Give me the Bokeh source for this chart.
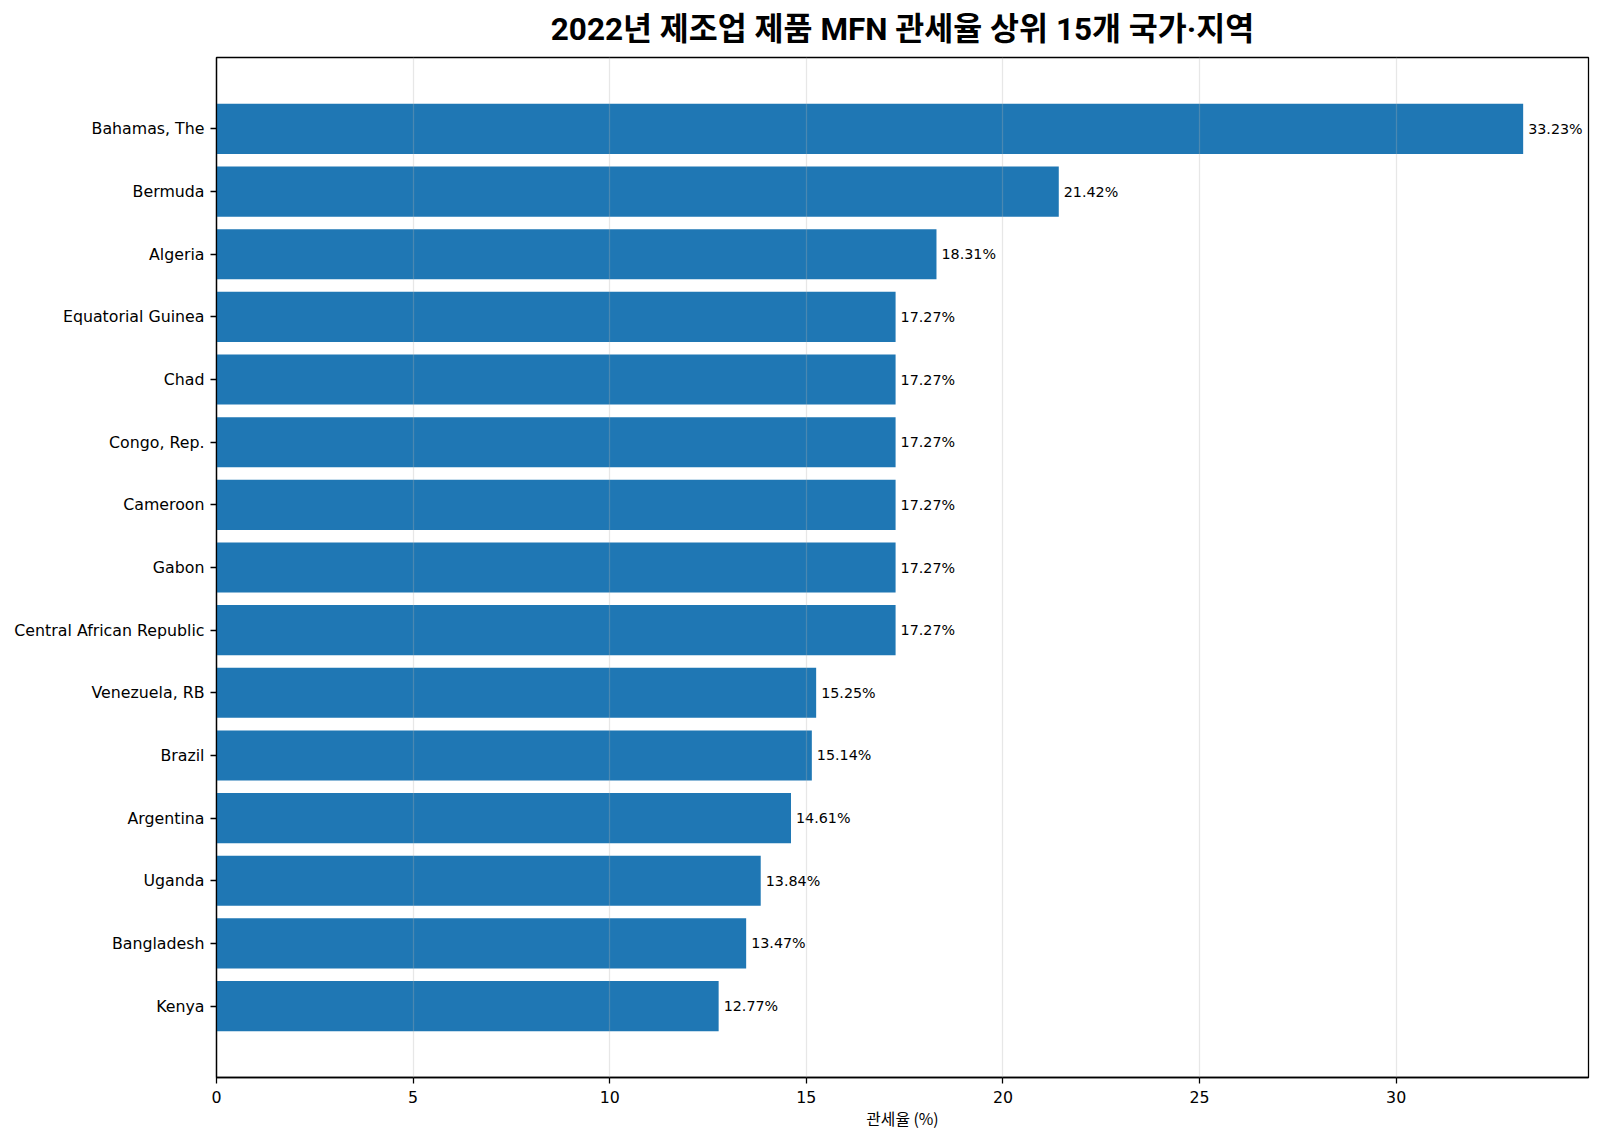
from bokeh.plotting import figure
from bokeh.models import FactorRange, Range1d, SingleIntervalTicker, ColumnDataSource
from bokeh.core.properties import value
from bokeh.embed import file_html
from bokeh.resources import INLINE

countries = ["Bahamas, The", "Bermuda", "Algeria", "Equatorial Guinea", "Chad",
             "Congo, Rep.", "Cameroon", "Gabon", "Central African Republic",
             "Venezuela, RB", "Brazil", "Argentina", "Uganda", "Bangladesh", "Kenya"]
tariffs = [33.23, 21.42, 18.31, 17.27, 17.27, 17.27, 17.27, 17.27, 17.27,
           15.25, 15.14, 14.61, 13.84, 13.47, 12.77]
labels = [f"{v:.2f}%" for v in tariffs]

title_text = "2022년 제조업 제품 MFN 관세율 상위 15개 국가·지역"
xlabel_text = "관세율 (%)"

src = ColumnDataSource(dict(country=countries, tariff=tariffs, label=labels))

factors = countries[::-1]
p = figure(
    y_range=FactorRange(factors=factors, range_padding=1.28 / 15),
    x_range=Range1d(0, max(tariffs) * 1.05),
    frame_width=1372, frame_height=1020,
    min_border_left=216, min_border_top=57, min_border_right=2, min_border_bottom=50,
    output_backend="svg", toolbar_location=None,
    background_fill_color="white", border_fill_color="white",
)

p.hbar(y="country", right="tariff", left=0, height=0.8, source=src,
       fill_color="#1f77b4", line_color=None)

p.text(x="tariff", y="country", text="label", source=src,
       x_offset=5, text_align="left", text_baseline="middle",
       text_font=value("DejaVu Sans"), text_font_size="14.3px", text_color="black")

p.title.text = title_text
p.title.align = "center"
p.title.vertical_align = "middle"
p.title.text_font = "Roboto, 'Noto Sans CJK KR'"
p.title.text_font_style = "bold"
p.title.text_font_size = "31.5px"
p.title.text_color = "black"
p.title.standoff = 18

p.outline_line_color = "black"
p.outline_line_width = 1.27
p.outline_line_alpha = 1.0

xa = p.xaxis[0]
xa.ticker = SingleIntervalTicker(interval=5, num_minor_ticks=0)
xa.axis_label = xlabel_text
xa.axis_label_text_font = "Noto Sans CJK KR"
xa.axis_label_text_font_style = "normal"
xa.axis_label_text_font_size = "15.8px"
xa.axis_label_text_color = "black"
xa.axis_label_standoff = 1
xa.major_label_text_font = "DejaVu Sans"
xa.major_label_text_font_size = "15.8px"
xa.major_label_standoff = 7

ya = p.yaxis[0]
ya.major_label_text_font = "DejaVu Sans"
ya.major_label_text_font_size = "15.8px"
ya.major_label_standoff = 6

for ax in (xa, ya):
    ax.axis_line_color = "black"
    ax.axis_line_width = 1.27
    ax.major_tick_line_color = "black"
    ax.major_tick_line_width = 1.27
    ax.major_tick_out = 6
    ax.major_tick_in = 0
    ax.minor_tick_line_color = None
    ax.major_label_text_color = "black"

p.xgrid.grid_line_color = "#b0b0b0"
p.xgrid.grid_line_alpha = 0.3
p.xgrid.grid_line_width = 1.27
p.xgrid.level = "overlay"
p.ygrid.grid_line_color = None

open("out.html", "w").write(file_html(p, INLINE))
